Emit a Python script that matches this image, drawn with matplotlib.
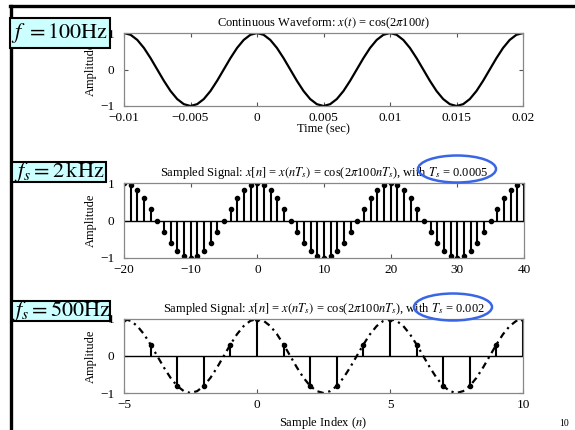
import numpy as np
import matplotlib
matplotlib.use("Agg")
import matplotlib.pyplot as plt
from matplotlib.lines import Line2D
from matplotlib.patches import Rectangle, Ellipse

plt.rcParams['font.family'] = ['Liberation Serif', 'DejaVu Serif']
plt.rcParams['mathtext.fontset'] = 'stix'

# data: cos(2*pi*100*t) samples at 2 kHz, n = -20..40
n_fast = np.arange(-20, 41)
x_fast = [1, 0.95, 0.81, 0.59, 0.31, 0, -0.31, -0.59, -0.81, -0.95,
          -1, -0.95, -0.81, -0.59, -0.31, 0, 0.31, 0.59, 0.81, 0.95,
          1, 0.95, 0.81, 0.59, 0.31, 0, -0.31, -0.59, -0.81, -0.95,
          -1, -0.95, -0.81, -0.59, -0.31, 0, 0.31, 0.59, 0.81, 0.95,
          1, 0.95, 0.81, 0.59, 0.31, 0, -0.31, -0.59, -0.81, -0.95,
          -1, -0.95, -0.81, -0.59, -0.31, 0, 0.31, 0.59, 0.81, 0.95, 1]
Ts_fast = 0.0005
t_cont = n_fast * Ts_fast

# samples at 500 Hz, n = -5..10
n_slow = np.arange(-5, 11)
x_slow = [1, 0.31, -0.81, -0.81, 0.31, 1, 0.31, -0.81, -0.81, 0.31,
          1, 0.31, -0.81, -0.81, 0.31, 1]
Ts_slow = 0.002

W, H = 575, 430
fig = plt.figure(figsize=(W / 100, H / 100), dpi=100)


def px_axes(l, t, r, b):
    return fig.add_axes([l / W, 1 - b / H, (r - l) / W, (b - t) / H])


def style(ax):
    for s in ax.spines.values():
        s.set_color('#888888')
        s.set_linewidth(0.9)
    ax.tick_params(direction='in', top=True, right=True, labelsize=9.5,
                   length=3, color='#555555')
    ax.tick_params(axis='x', pad=4)
    ax.tick_params(axis='y', pad=7)
    ax.set_ylim(-1, 1)
    ax.set_yticks([-1, 0, 1])
    ax.set_yticklabels(['\u22121', '0', '1'])
    ax.set_ylabel('Amplitude', fontsize=9, labelpad=2)


# 1. continuous waveform
ax1 = px_axes(124, 33, 523, 106)
ax1.plot(t_cont, x_fast, color='black', lw=1.6)
ax1.set_xlim(-0.01, 0.02)
ax1.set_xticks([-0.01, -0.005, 0, 0.005, 0.01, 0.015, 0.02])
ax1.set_xticklabels(['\u22120.01', '\u22120.005', '0', '0.005', '0.01', '0.015', '0.02'])
style(ax1)
ax1.set_xlabel('Time (sec)', fontsize=9, labelpad=0)
ax1.set_title(r'Continuous Waveform: $x(t)$ = cos(2$\pi$100$t$)', fontsize=9, pad=5)

# 2. sampled at 2 kHz
ax2 = px_axes(124, 183, 524, 258)
ax2.axhline(0, color='black', lw=1.0)
ax2.vlines(n_fast, 0, x_fast, color='black', lw=1.5)
ax2.plot(n_fast, x_fast, 'o', color='black', ms=3.0)
ax2.set_xlim(-20, 40)
ax2.set_xticks([-20, -10, 0, 10, 20, 30, 40])
ax2.set_xticklabels(['\u221220', '\u221210', '0', '10', '20', '30', '40'])
style(ax2)
ax2.set_title(r'Sampled Signal: $x[n]$ = $x(nT_s)$ = cos(2$\pi$100$nT_s$), with $T_s$ = 0.0005',
              fontsize=9, pad=5)

# 3. sampled at 500 Hz
ax3 = px_axes(124, 319, 523, 393)
ax3.axhline(0, color='black', lw=1.0)
ax3.plot(t_cont / Ts_slow, x_fast, color='black', lw=1.6, dashes=(3, 2, 1, 2))
ax3.vlines(n_slow, 0, x_slow, color='black', lw=1.5)
ax3.plot(n_slow, x_slow, 'o', color='black', ms=3.0)
ax3.set_xlim(-5, 10)
ax3.set_xticks([-5, 0, 5, 10])
ax3.set_xticklabels(['\u22125', '0', '5', '10'])
style(ax3)
ax3.set_xlabel(r'Sample Index ($n$)', fontsize=9, labelpad=3)
ax3.set_title(r'Sampled Signal: $x[n]$ = $x(nT_s)$ = cos(2$\pi$100$nT_s$), with $T_s$ = 0.002',
              fontsize=9, pad=5)

# slide border lines
fig.add_artist(Line2D([10 / W, 1], [1 - 6 / H, 1 - 6 / H], color='black', lw=2.4,
                      transform=fig.transFigure))
fig.add_artist(Line2D([11 / W, 11 / W], [1 - 6 / H, 0], color='black', lw=2.4,
                      transform=fig.transFigure))

# frequency labels
boxes = [(10, 18, 110, 48, r'$f\ =100\mathrm{Hz}$'),
         (12, 162, 106, 182, r'$f_s=2\,\mathrm{kHz}$'),
         (12, 301, 110, 321, r'$f_s=500\mathrm{Hz}$')]
for l, t, r, b, txt in boxes:
    fig.add_artist(Rectangle((l / W, 1 - b / H), (r - l) / W, (b - t) / H,
                             facecolor='#ccffff', edgecolor='black', lw=1.5,
                             transform=fig.transFigure, zorder=5))
    fig.text((l + r) / 2 / W, 1 - (t + b) / 2 / H, txt, fontsize=16,
             ha='center', va='center', zorder=6)

# highlight ellipses around T_s
for cx, cy in [(457, 169), (453, 307)]:
    fig.add_artist(Ellipse((cx / W, 1 - cy / H), 78 / W, 27 / H, fill=False,
                           edgecolor='#3a66e6', lw=1.8, transform=fig.transFigure))

fig.text(569 / W, 1 - 424 / H, '10', fontsize=7, ha='right', va='center')

fig.savefig('out.png', dpi=100)
